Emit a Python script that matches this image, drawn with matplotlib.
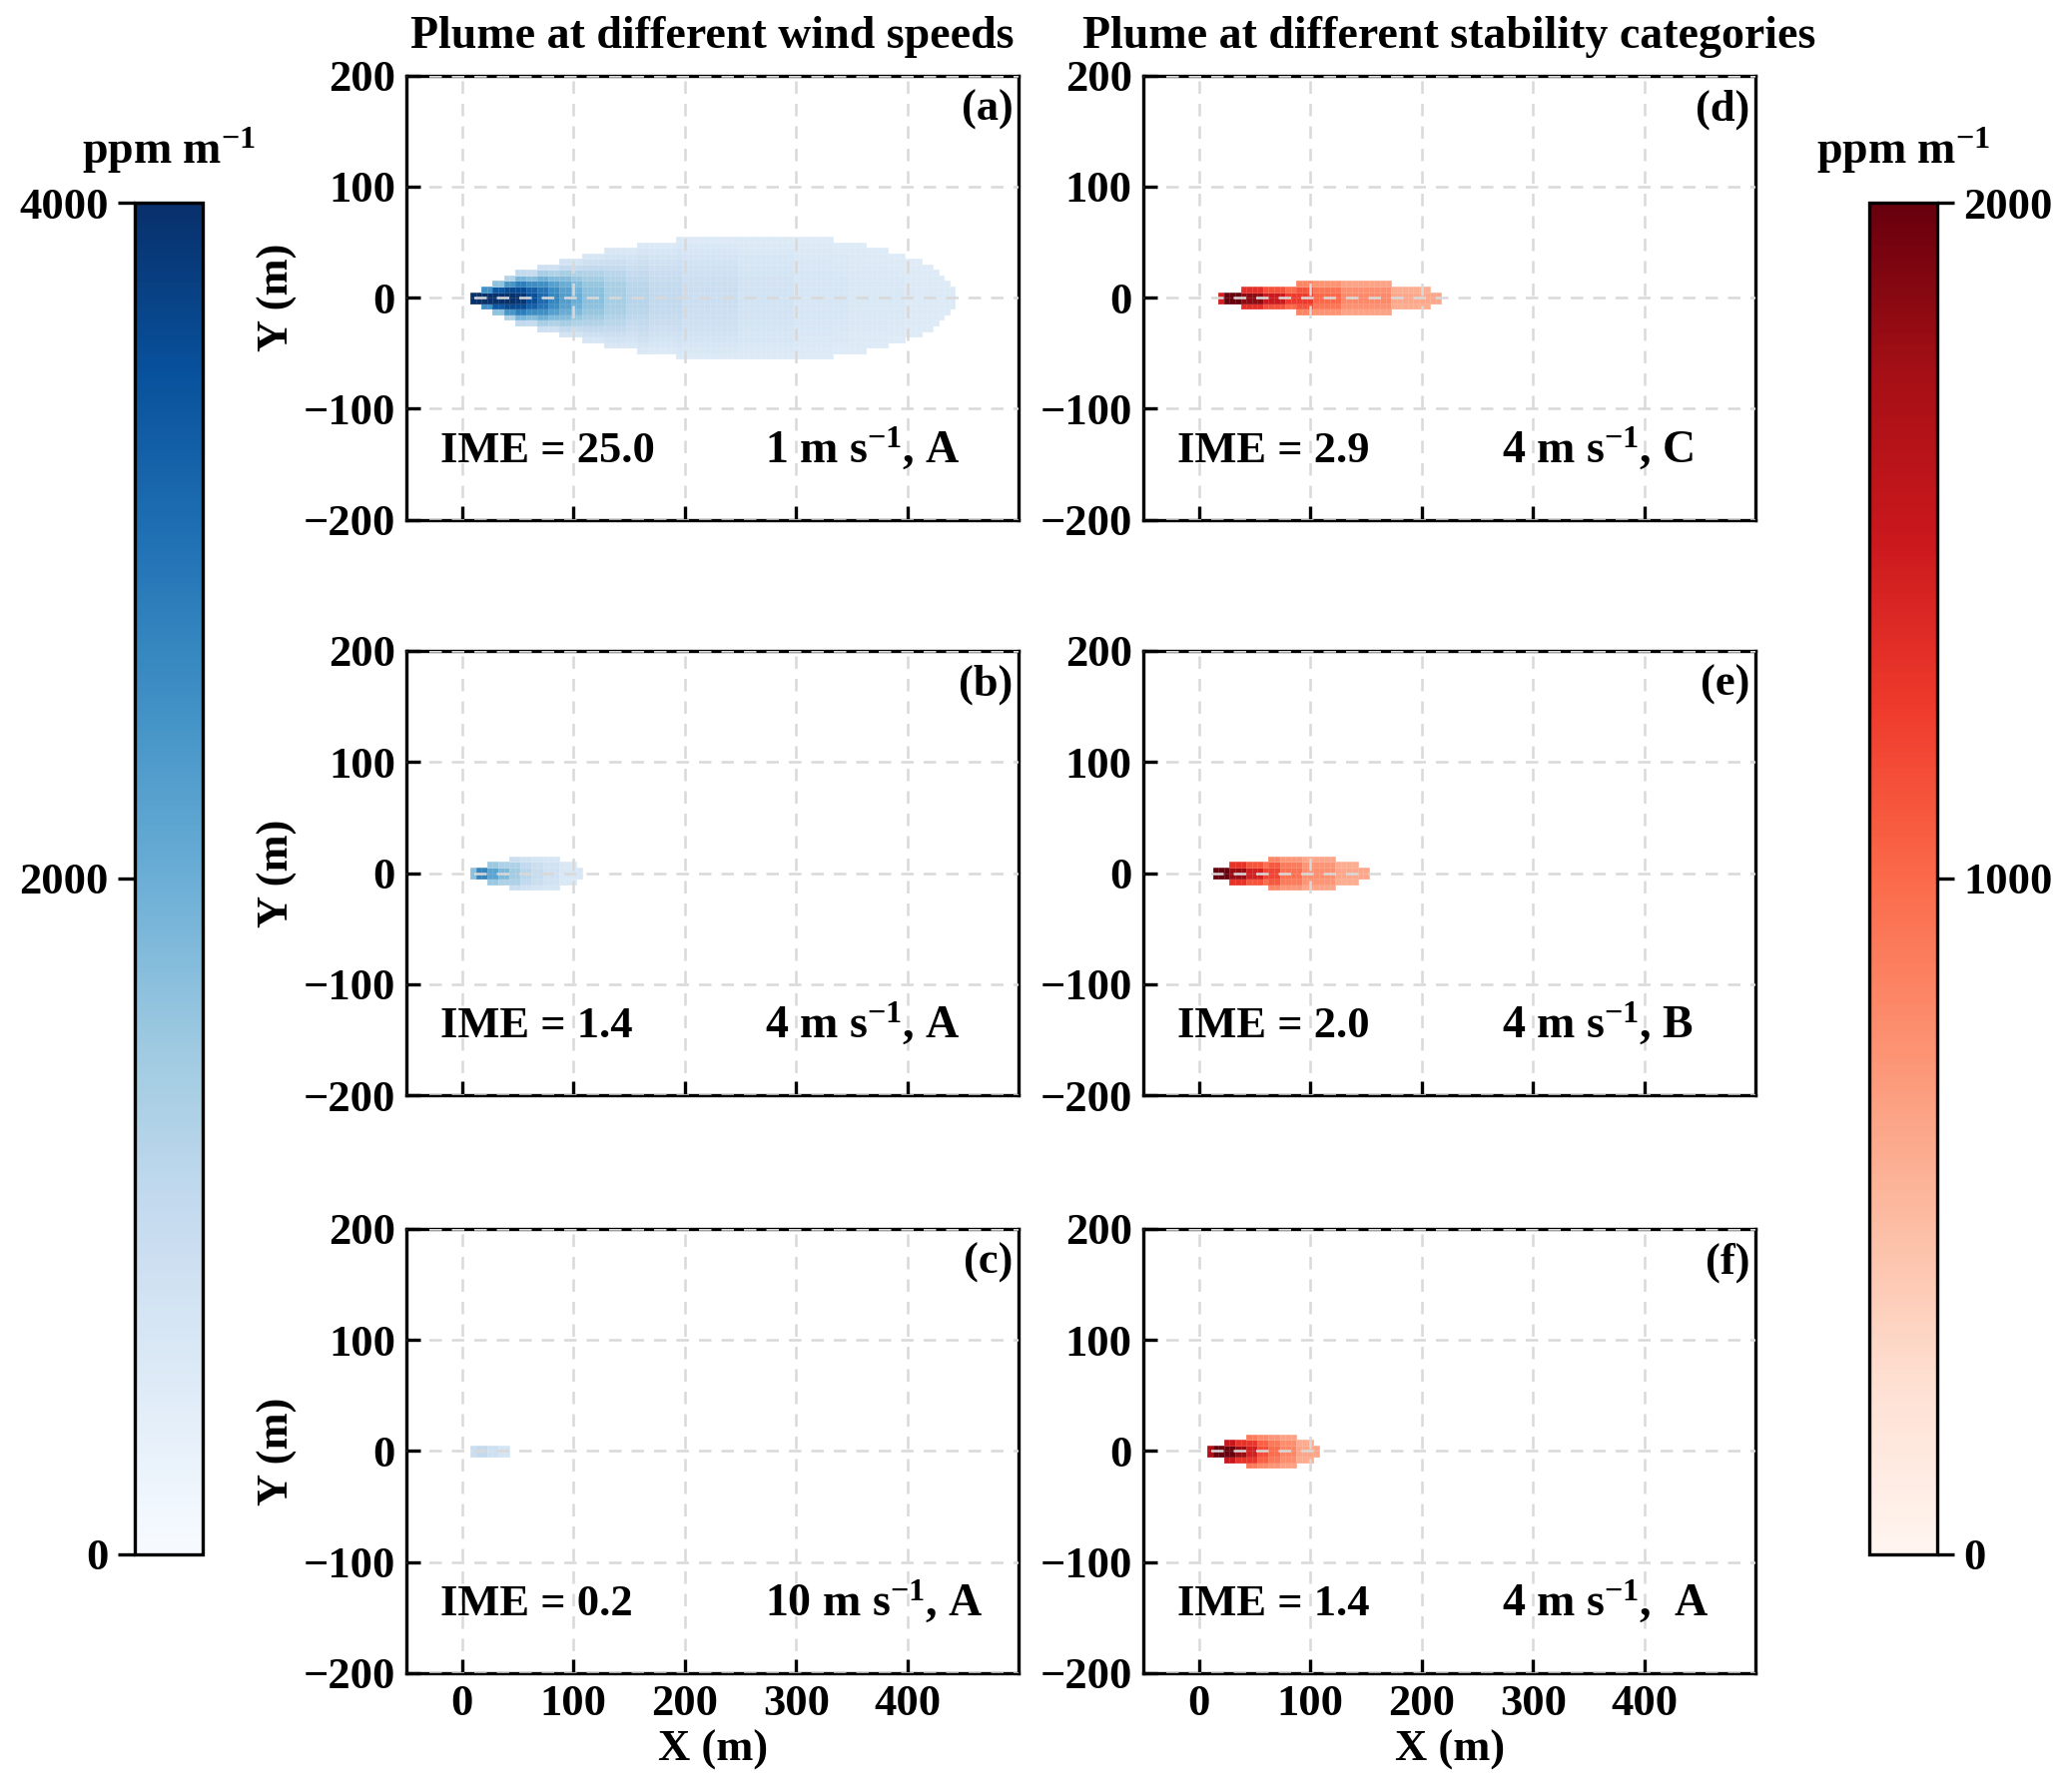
import numpy as np
import matplotlib
matplotlib.use("Agg")
import matplotlib.pyplot as plt
from matplotlib import cm
from matplotlib.colors import Normalize

plt.rcParams['font.family'] = ['Liberation Serif', 'DejaVu Serif']
plt.rcParams['font.weight'] = 'bold'
plt.rcParams['axes.labelweight'] = 'bold'
plt.rcParams['axes.titleweight'] = 'bold'
plt.rcParams['mathtext.fontset'] = 'custom'
plt.rcParams['mathtext.rm'] = 'Liberation Serif:bold'
plt.rcParams['mathtext.it'] = 'Liberation Serif:bold:italic'
plt.rcParams['mathtext.bf'] = 'Liberation Serif:bold'
plt.rcParams['mathtext.default'] = 'rm'

# ---- plume data (ppm m, metres) ----
# centreline column-density: value holds from each start x onwards
# outline: half width (m) holds from each step x onwards, 0 = end of plume
THRESHOLD = 500

a_center_x = [7.5, 17.5, 37.5, 47.5, 57.5, 67.5, 77.5, 87.5, 97.5, 107.5, 127.5, 147.5, 167.5, 197.5, 247.5, 297.5, 347.5, 397.5]
a_center_v = [4500, 4300, 4100, 3900, 3500, 3100, 2700, 2300, 2000, 1700, 1400, 1200, 1050, 900, 760, 670, 600, 550]
a_step_x = [7.5, 17.5, 27.5, 37.5, 47.5, 67.5, 87.5, 107.5, 127.5, 157.5, 192.5, 332.5, 362.5, 382.5, 397.5, 412.5, 422.5, 427.5, 432.5, 437.5, 442.5]
a_step_hw = [5, 10, 15, 20, 25, 30, 35, 40, 45, 50, 55, 50, 45, 40, 35, 30, 25, 20, 15, 10, 0]

# 4 m/s, class A (used in (b) and (f))
b_center_x = [7.5, 12.5, 22.5, 32.5, 42.5, 52.5, 62.5, 72.5, 87.5]
b_center_v = [1700, 2700, 2200, 1800, 1450, 1150, 980, 820, 630]
b_step_x = [7.5, 22.5, 42.5, 87.5, 102.5, 107.5]
b_step_hw = [5, 10, 15, 10, 5, 0]

c_center_x = [7.5, 12.5, 22.5, 32.5]
c_center_v = [900, 1050, 850, 720]
c_step_x = [7.5, 42.5]
c_step_hw = [5, 0]

d_center_x = [17.5, 22.5, 37.5, 57.5, 77.5, 102.5, 127.5, 172.5]
d_center_v = [1450, 2100, 1850, 1500, 1250, 1000, 800, 620]
d_step_x = [17.5, 37.5, 87.5, 172.5, 207.5, 217.5]
d_step_hw = [5, 10, 15, 10, 5, 0]

e_center_x = [12.5, 27.5, 42.5, 57.5, 72.5, 92.5, 122.5]
e_center_v = [2050, 1800, 1450, 1200, 950, 770, 620]
e_step_x = [12.5, 27.5, 62.5, 122.5, 142.5, 152.5]
e_step_hw = [5, 10, 15, 10, 5, 0]

panel_letters = ['(a)', '(b)', '(c)', '(d)', '(e)', '(f)']
ime_values = [25.0, 1.4, 0.2, 2.9, 2.0, 1.4]
wind_labels = ['1 m s$^{-1}$, A', '4 m s$^{-1}$, A', '10 m s$^{-1}$, A',
               '4 m s$^{-1}$, C', '4 m s$^{-1}$, B', '4 m s$^{-1}$,  A']
col_titles = ['Plume at different wind speeds', 'Plume at different stability categories']

x_edges = np.arange(-2.5, 457.5 + 0.1, 5)
y_edges = np.arange(-70, 70 + 0.1, 5)


def build_field(center_x, center_v, step_x, step_hw):
    xc = x_edges[:-1] + 2.5
    yc = y_edges[:-1] + 2.5
    i = np.searchsorted(center_x, xc, side='right') - 1
    c0 = np.where(i >= 0, np.array(center_v, float)[np.clip(i, 0, None)], np.nan)
    j = np.searchsorted(step_x, xc, side='right') - 1
    hw = np.where(j >= 0, np.array(step_hw, float)[np.clip(j, 0, None)], 0)
    ratio = np.maximum(np.nan_to_num(c0, nan=1.0) / THRESHOLD, 1.1)
    sigma = np.maximum(hw, 1) / np.sqrt(2 * np.log(ratio))
    d = np.abs(yc)[:, None] - 2.5
    z = c0[None, :] * np.exp(-d ** 2 / (2 * sigma[None, :] ** 2))
    z = np.where(np.abs(yc)[:, None] < hw[None, :], z, np.nan)
    return np.ma.masked_invalid(z)


fields = [
    build_field(a_center_x, a_center_v, a_step_x, a_step_hw),
    build_field(b_center_x, b_center_v, b_step_x, b_step_hw),
    build_field(c_center_x, c_center_v, c_step_x, c_step_hw),
    build_field(d_center_x, d_center_v, d_step_x, d_step_hw),
    build_field(e_center_x, e_center_v, e_step_x, e_step_hw),
    build_field(b_center_x, b_center_v, b_step_x, b_step_hw),
]

fig = plt.figure(figsize=(10.335, 8.975), dpi=200)

col_x = [0.1969, 0.5539]
row_y = [0.7099, 0.3888, 0.0663]
w, h = 0.2968, 0.248
norms = [Normalize(0, 4000), Normalize(0, 2000)]
cmaps = ['Blues', 'Reds']

for k in range(6):
    col, row = divmod(k, 3)
    ax = fig.add_axes([col_x[col], row_y[row], w, h])
    ax.pcolormesh(x_edges, y_edges, fields[k], cmap=cmaps[col], norm=norms[col],
                  edgecolors=(1, 1, 1, 0.12), linewidth=0.2)
    ax.set_xlim(-50, 500)
    ax.set_ylim(-200, 200)
    ax.set_xticks([0, 100, 200, 300, 400])
    ax.set_yticks([-200, -100, 0, 100, 200])
    ax.set_axisbelow(False)
    ax.grid(True, ls=(0, (5, 4)), color='#d9d9d9', lw=0.9)
    ax.tick_params(direction='in', length=5, width=1.2, labelsize=16, pad=4)
    for s in ax.spines.values():
        s.set_linewidth(1.2)
    if col == 0:
        ax.set_ylabel('Y (m)', fontsize=16, labelpad=2)
    if row == 2:
        ax.set_xlabel('X (m)', fontsize=16, labelpad=2)
    else:
        ax.tick_params(labelbottom=False)
    if row == 0:
        ax.set_title(col_titles[col], fontsize=16.5, pad=10)
    ax.text(0.99, 0.90, panel_letters[k], transform=ax.transAxes,
            ha='right', va='baseline', fontsize=16)
    ax.text(0.055, 0.13, f'IME = {ime_values[k]:.1f}', transform=ax.transAxes,
            ha='left', va='baseline', fontsize=16)
    ax.text(0.585, 0.13, wind_labels[k], transform=ax.transAxes,
            ha='left', va='baseline', fontsize=16.5)

cbar_x = [0.0653, 0.9057]
cbar_ticks = [[0, 2000, 4000], [0, 1000, 2000]]
for col in range(2):
    cax = fig.add_axes([cbar_x[col], 0.1326, 0.0329, 0.7543])
    sm = cm.ScalarMappable(norm=norms[col], cmap=cmaps[col])
    cb = fig.colorbar(sm, cax=cax, ticks=cbar_ticks[col])
    cb.outline.set_linewidth(1.2)
    cax.tick_params(direction='out', length=6, width=1.2, labelsize=16)
    if col == 0:
        cax.yaxis.set_ticks_position('left')
    cax.set_title('ppm m$^{-1}$', fontsize=16.5, pad=14)

fig.savefig('out.png', dpi=200)
